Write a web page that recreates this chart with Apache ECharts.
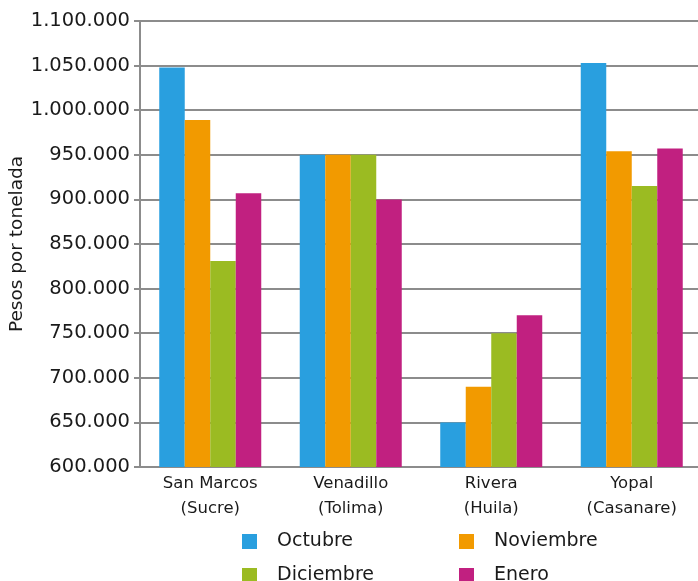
<!DOCTYPE html>
<html><head><meta charset="utf-8">
<script src="https://cdn.jsdelivr.net/npm/echarts@6/dist/echarts.min.js"></script>
<style>html,body{margin:0;padding:0;background:#fff}#c{width:698px;height:581px}</style>
</head><body><div id="c"></div>
<script>
const categories = ['San Marcos\n(Sucre)', 'Venadillo\n(Tolima)', 'Rivera\n(Huila)', 'Yopal\n(Casanare)'];
const octubre = [1048000, 950000, 650000, 1053000];
const noviembre = [989000, 950000, 690000, 954000];
const diciembre = [831000, 950000, 750000, 915000];
const enero = [907000, 900000, 770000, 957000];
const seriesNames = ['Octubre', 'Noviembre', 'Diciembre', 'Enero'];
const colors = ['#299fdf', '#f29a00', '#9bbb22', '#c12080'];
const yMin = 600000, yMax = 1100000, yStep = 50000;

const font = 'DejaVu Sans';
function fmt(v){ return String(v).replace(/\B(?=(\d{3})+(?!\d))/g, '.'); }

const legendPos = [[242, 532], [459, 532], [242, 566], [459, 566]];
function mkLegend(name, pos){
  return { data: [name], orient: 'horizontal', left: pos[0], top: pos[1], padding: 0,
    itemWidth: 15, itemHeight: 15, icon: 'rect',
    textStyle: { fontSize: 19, color: '#1a1a1a', padding: [0,0,0,15], fontFamily: font } };
}

const chart = echarts.init(document.getElementById('c'));
const data = [octubre, noviembre, diciembre, enero];
chart.setOption({
  animation: false,
  textStyle: { fontFamily: font },
  grid: { left: 140, top: 21, bottom: 114, width: 562, containLabel: false, outerBoundsMode: 'none' },
  legend: seriesNames.map((n, i) => mkLegend(n, legendPos[i])),
  xAxis: {
    type: 'category', data: categories,
    axisLine: { lineStyle: { color: '#8c8c8c', width: 2 } },
    axisTick: { show: false },
    axisLabel: { fontSize: 16.5, color: '#1a1a1a', lineHeight: 25, margin: 4, fontFamily: font }
  },
  yAxis: {
    type: 'value', min: yMin, max: yMax, interval: yStep,
    name: 'Pesos por tonelada', nameLocation: 'middle', nameGap: 113, nameRotate: 90,
    nameMoveOverlap: false,
    nameTextStyle: { fontSize: 18.5, color: '#1a1a1a', fontFamily: font },
    axisLine: { show: true, lineStyle: { color: '#8c8c8c', width: 2 } },
    axisTick: { show: true, inside: false, length: 6, lineStyle: { color: '#8c8c8c', width: 2 } },
    splitLine: { lineStyle: { color: '#8c8c8c', width: 2 } },
    axisLabel: { fontSize: 19.5, color: '#1a1a1a', margin: 10, formatter: fmt, fontFamily: font }
  },
  series: seriesNames.map((n, i) => ({
    name: n, type: 'bar', data: data[i], barGap: '0%', barCategoryGap: '27.4%',
    itemStyle: { color: colors[i] }
  }))
});
</script></body></html>
